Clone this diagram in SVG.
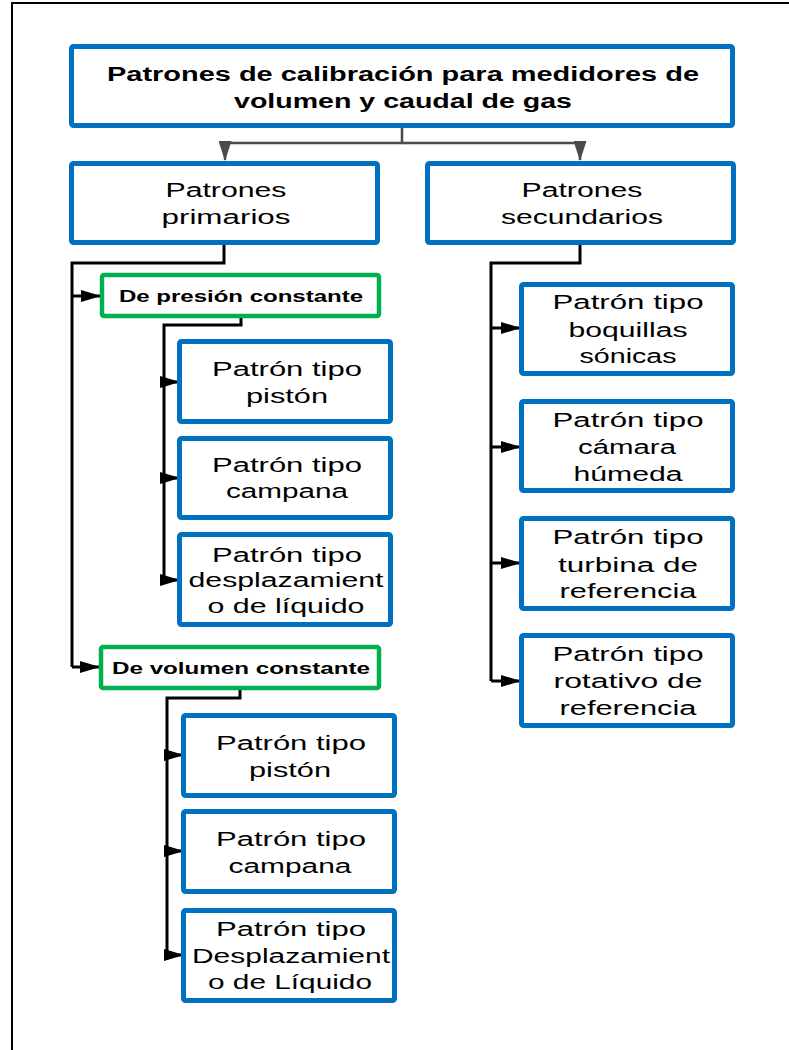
<svg xmlns="http://www.w3.org/2000/svg" width="789" height="1050" viewBox="0 0 789 1050">
<style>
.frame{fill:none;stroke:#000;stroke-width:2}
.blue{fill:#fff;stroke:#0070c0;stroke-width:5}
.green{fill:#fff;stroke:#00b050;stroke-width:4.5}
text{font-family:"Liberation Sans",Arial,sans-serif;fill:#000;text-anchor:middle}
.t{font-size:20px}
.tb{font-size:20px;font-weight:bold}
.tg{font-size:16px;font-weight:bold}
.c{fill:none;stroke:#000;stroke-width:3}
.cg{fill:none;stroke:#4e4a45;stroke-width:2.5}
</style>
<defs>
<marker id="ab" markerUnits="userSpaceOnUse" markerWidth="20" markerHeight="12" refX="19" refY="6" orient="auto">
<path d="M0,0 L20,6 L0,12 z" fill="#000"/>
</marker>
<marker id="ag" markerUnits="userSpaceOnUse" markerWidth="20" markerHeight="13" refX="19" refY="6.5" orient="auto">
<path d="M0,0 L20,6.5 L0,13 z" fill="#4e4a45"/>
</marker>
</defs>
<rect class="frame" x="12" y="3" width="800" height="1060"/>

<g id="connectors">
<path class="cg" d="M402 128 V143 H225 V150"/>
<path class="cg" d="M225 143 V160" marker-end="url(#ag)"/>
<path class="cg" d="M402 143 H580 V160" marker-end="url(#ag)"/>
<path class="c" d="M224 245 V263 H72 V667"/>
<path class="c" d="M72 296 H100" marker-end="url(#ab)"/>
<path class="c" d="M72 667 H99" marker-end="url(#ab)"/>
<path class="c" d="M241 318 V325 H164 V580"/>
<path class="c" d="M164 382 H179" marker-end="url(#ab)"/>
<path class="c" d="M164 478 H179" marker-end="url(#ab)"/>
<path class="c" d="M164 580 H179" marker-end="url(#ab)"/>
<path class="c" d="M240 690 V698 H167 V955"/>
<path class="c" d="M167 755 H183" marker-end="url(#ab)"/>
<path class="c" d="M167 851 H183" marker-end="url(#ab)"/>
<path class="c" d="M167 955 H183" marker-end="url(#ab)"/>
<path class="c" d="M580 245 V263 H491 V681"/>
<path class="c" d="M491 328 H520" marker-end="url(#ab)"/>
<path class="c" d="M491 447 H520" marker-end="url(#ab)"/>
<path class="c" d="M491 563 H520" marker-end="url(#ab)"/>
<path class="c" d="M491 681 H520" marker-end="url(#ab)"/>
</g>

<g id="root">
<rect class="blue" x="71.5" y="46.5" width="661" height="79" rx="2"/>
<text class="tb" x="403" y="81" textLength="592" lengthAdjust="spacingAndGlyphs">Patrones de calibración para medidores de</text>
<text class="tb" x="403" y="108" textLength="338" lengthAdjust="spacingAndGlyphs">volumen y caudal de gas</text>
</g>

<g id="primarios">
<rect class="blue" x="71.5" y="163.5" width="306" height="79" rx="2"/>
<text class="t" x="226" y="197" textLength="121" lengthAdjust="spacingAndGlyphs">Patrones</text>
<text class="t" x="226" y="224" textLength="129" lengthAdjust="spacingAndGlyphs">primarios</text>
</g>

<g id="secundarios">
<rect class="blue" x="427.5" y="163.5" width="306" height="79" rx="2"/>
<text class="t" x="582" y="197" textLength="121" lengthAdjust="spacingAndGlyphs">Patrones</text>
<text class="t" x="582" y="224" textLength="162" lengthAdjust="spacingAndGlyphs">secundarios</text>
</g>

<g id="presion">
<rect class="green" x="102" y="275" width="277" height="41" rx="2"/>
<text class="tg" x="241" y="302" textLength="244" lengthAdjust="spacingAndGlyphs">De presión constante</text>
</g>

<g id="p-piston">
<rect class="blue" x="179.5" y="341.5" width="211" height="80" rx="2"/>
<text class="t" x="287" y="376" textLength="150" lengthAdjust="spacingAndGlyphs">Patrón tipo</text>
<text class="t" x="287" y="403" textLength="82" lengthAdjust="spacingAndGlyphs">pistón</text>
</g>

<g id="p-campana">
<rect class="blue" x="179.5" y="438.5" width="211" height="79" rx="2"/>
<text class="t" x="287" y="472" textLength="150" lengthAdjust="spacingAndGlyphs">Patrón tipo</text>
<text class="t" x="287" y="498" textLength="122" lengthAdjust="spacingAndGlyphs">campana</text>
</g>

<g id="p-liquido">
<rect class="blue" x="179.5" y="534.5" width="211" height="90" rx="2"/>
<text class="t" x="287" y="562" textLength="150" lengthAdjust="spacingAndGlyphs">Patrón tipo</text>
<text class="t" x="286" y="587" textLength="195" lengthAdjust="spacingAndGlyphs">desplazamient</text>
<text class="t" x="286" y="613" textLength="157" lengthAdjust="spacingAndGlyphs">o de líquido</text>
</g>

<g id="volumen">
<rect class="green" x="101" y="647" width="278" height="41" rx="2"/>
<text class="tg" x="241" y="674" textLength="258" lengthAdjust="spacingAndGlyphs">De volumen constante</text>
</g>

<g id="v-piston">
<rect class="blue" x="183.5" y="715.5" width="211" height="80" rx="2"/>
<text class="t" x="291" y="750" textLength="150" lengthAdjust="spacingAndGlyphs">Patrón tipo</text>
<text class="t" x="290" y="777" textLength="82" lengthAdjust="spacingAndGlyphs">pistón</text>
</g>

<g id="v-campana">
<rect class="blue" x="183.5" y="811.5" width="211" height="80" rx="2"/>
<text class="t" x="291" y="846" textLength="150" lengthAdjust="spacingAndGlyphs">Patrón tipo</text>
<text class="t" x="290" y="873" textLength="123" lengthAdjust="spacingAndGlyphs">campana</text>
</g>

<g id="v-liquido">
<rect class="blue" x="183.5" y="910.5" width="211" height="90" rx="2"/>
<text class="t" x="291" y="936" textLength="150" lengthAdjust="spacingAndGlyphs">Patrón tipo</text>
<text class="t" x="291" y="963" textLength="198" lengthAdjust="spacingAndGlyphs">Desplazamient</text>
<text class="t" x="290" y="989" textLength="164" lengthAdjust="spacingAndGlyphs">o de Líquido</text>
</g>

<g id="s-boquillas">
<rect class="blue" x="521.5" y="284.5" width="211" height="89" rx="2"/>
<text class="t" x="628" y="309" textLength="151" lengthAdjust="spacingAndGlyphs">Patrón tipo</text>
<text class="t" x="628" y="337" textLength="119" lengthAdjust="spacingAndGlyphs">boquillas</text>
<text class="t" x="628" y="363" textLength="97" lengthAdjust="spacingAndGlyphs">sónicas</text>
</g>

<g id="s-camara">
<rect class="blue" x="521.5" y="401.5" width="211" height="89" rx="2"/>
<text class="t" x="628" y="427" textLength="151" lengthAdjust="spacingAndGlyphs">Patrón tipo</text>
<text class="t" x="627" y="454" textLength="98" lengthAdjust="spacingAndGlyphs">cámara</text>
<text class="t" x="628" y="481" textLength="109" lengthAdjust="spacingAndGlyphs">húmeda</text>
</g>

<g id="s-turbina">
<rect class="blue" x="521.5" y="518.5" width="211" height="90" rx="2"/>
<text class="t" x="628" y="544" textLength="151" lengthAdjust="spacingAndGlyphs">Patrón tipo</text>
<text class="t" x="628" y="572" textLength="140" lengthAdjust="spacingAndGlyphs">turbina de</text>
<text class="t" x="628" y="598" textLength="137" lengthAdjust="spacingAndGlyphs">referencia</text>
</g>

<g id="s-rotativo">
<rect class="blue" x="521.5" y="635.5" width="211" height="90" rx="2"/>
<text class="t" x="628" y="661" textLength="151" lengthAdjust="spacingAndGlyphs">Patrón tipo</text>
<text class="t" x="628" y="688" textLength="149" lengthAdjust="spacingAndGlyphs">rotativo de</text>
<text class="t" x="628" y="715" textLength="137" lengthAdjust="spacingAndGlyphs">referencia</text>
</g>
</svg>
